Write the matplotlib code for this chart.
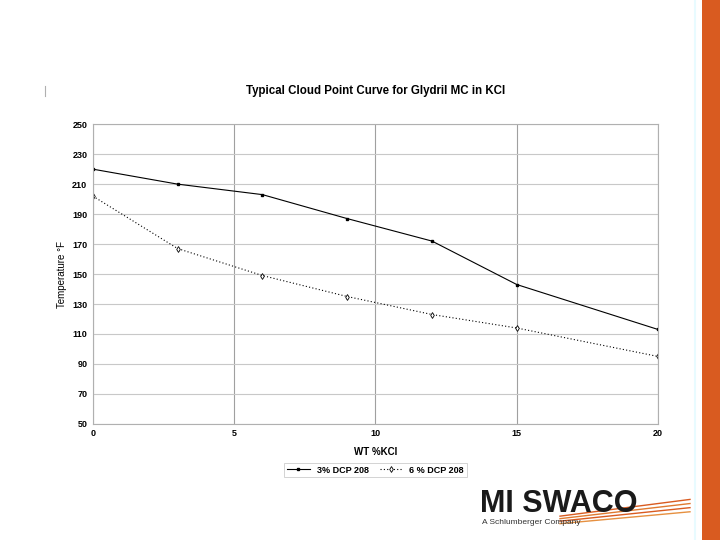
import matplotlib.pyplot as plt
from matplotlib.patches import Rectangle
from matplotlib.lines import Line2D

plt.rcParams['font.family'] = ['Liberation Sans', 'DejaVu Sans']

# Data
wt_kcl = [0, 3, 6, 9, 12, 15, 20]
dcp3 = [220, 210, 203, 187, 172, 143, 113]
dcp6 = [202, 167, 149, 135, 123, 114, 95]

x_ticks = [0, 5, 10, 15, 20]
y_ticks = [50, 70, 90, 110, 130, 150, 170, 190, 210, 230, 250]

fig = plt.figure(figsize=(7.2, 5.4), dpi=100)
ax = fig.add_axes([0.129, 0.215, 0.785, 0.555])

ax.plot(wt_kcl, dcp3, color="black", linewidth=0.8, marker="s", markersize=1.8,
        label="3% DCP 208")
ax.plot(wt_kcl, dcp6, color="black", linewidth=0.8, linestyle=(0, (1, 2)),
        marker="d", markersize=3, markerfacecolor="white", markeredgewidth=0.6,
        label="6 % DCP 208")

ax.set_xlim(0, 20)
ax.set_ylim(50, 250)
ax.set_xticks(x_ticks)
ax.set_yticks(y_ticks)
ax.tick_params(labelsize=6.5, length=0, pad=4)
for lbl in ax.get_xticklabels() + ax.get_yticklabels():
    lbl.set_fontweight("bold")

ax.yaxis.grid(True, color="#c8c8c8", linewidth=0.8)
ax.xaxis.grid(True, color="#a0a0a0", linewidth=0.8)
ax.set_axisbelow(True)
for side in ["left", "right", "top", "bottom"]:
    ax.spines[side].set_color("#b0b0b0")
    ax.spines[side].set_linewidth(0.8)

ax.set_title("Typical Cloud Point Curve for Glydril MC in KCl", fontsize=8.3,
             fontweight="bold", pad=22)
ax.set_xlabel("WT %KCl", fontsize=7, fontweight="bold", labelpad=6)
ax.set_ylabel("Temperature °F", fontsize=7, labelpad=4)

leg = ax.legend(loc="upper center", bbox_to_anchor=(0.5, -0.115), ncol=2,
                fontsize=6.5, frameon=True, fancybox=False, handlelength=2.5,
                borderpad=0.3, columnspacing=1.2)
leg.get_frame().set_edgecolor("#c0c0c0")
leg.get_frame().set_linewidth(0.6)
for t in leg.get_texts():
    t.set_fontweight("bold")

# orange side bar
fig.patches.append(Rectangle((702 / 720, 0), 18 / 720, 1, transform=fig.transFigure,
                             facecolor="#d95b20", edgecolor="none"))
fig.add_artist(Line2D([695 / 720, 695 / 720], [0, 1], color="#e8fbff", linewidth=1.5))

# small mark at left
fig.add_artist(Line2D([45 / 720, 45 / 720], [1 - 86 / 540, 1 - 96 / 540],
                      color="#b0b0b0", linewidth=0.8))

# logo
fig.text(480 / 720, 1 - 504 / 540, "MI SWACO", fontsize=22, fontweight="heavy",
         color="#1a1a1a", va="center", ha="left")
fig.text(482 / 720, 1 - 523 / 540, "A Schlumberger Company", fontsize=6,
         color="#333333", va="center", ha="left")
for i, c in enumerate(["#d95b20", "#e07a30", "#d95b20", "#e69040"]):
    y0 = 1 - (514 + i * 2.5) / 540
    fig.add_artist(Line2D([560 / 720, 690 / 720], [y0 - 0.004, y0 + 0.027 - i * 0.003],
                          color=c, linewidth=1.0))

fig.savefig("out.png", dpi=100)
